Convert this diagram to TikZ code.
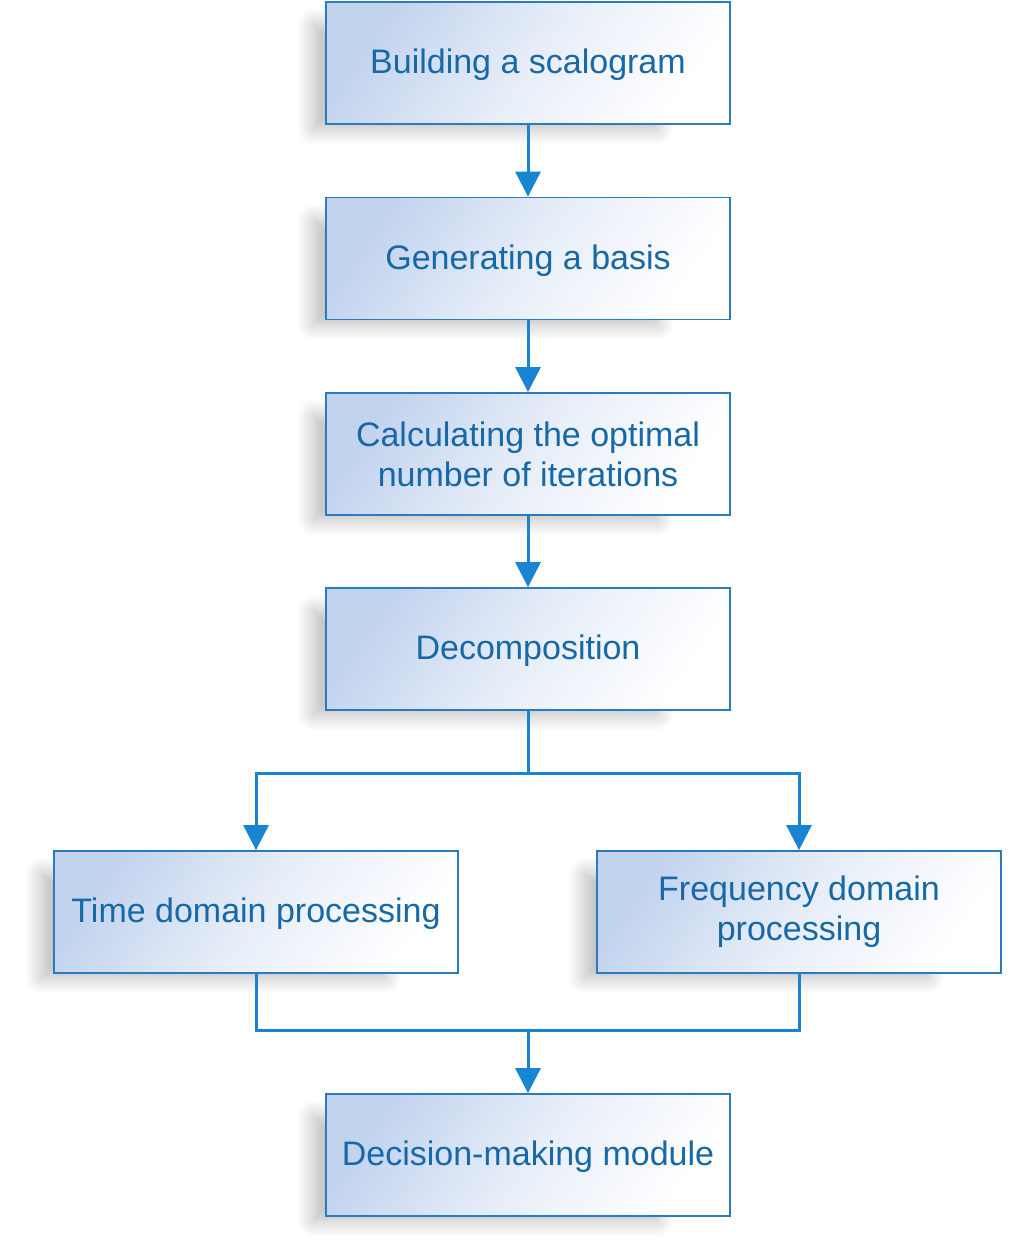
\documentclass[tikz,border=0pt]{standalone}
\usepackage{fontspec}
\setmainfont{Liberation Sans}
\usetikzlibrary{arrows.meta,shadows.blur}
\definecolor{boxline}{HTML}{2A7BBF}
\definecolor{boxtext}{HTML}{1768A6}
\definecolor{arrowc}{HTML}{1884D2}
\definecolor{boxfill}{HTML}{C2D3EE}
\newcommand{\lowtext}[1]{\raisebox{-2pt}[\height][\depth]{#1}}
\tikzset{
  procbox/.style={draw=boxline, line width=1.8pt, minimum width=404pt, minimum height=122pt,
    inner sep=0pt, align=center, text=boxtext, font=\fontsize{34}{40}\selectfont,
    top color=boxfill, bottom color=white, middle color=boxfill!40!white, shading angle=55,
    blur shadow={shadow xshift=-50pt, shadow yshift=-16pt, shadow blur radius=20pt, shadow blur steps=12, shadow opacity=28, shadow scale=0.85}},
  flow/.style={draw=arrowc, line width=3pt, -{Triangle[length=25pt,width=25pt]}},
  link/.style={draw=arrowc, line width=3pt}
}
\begin{document}
\begin{tikzpicture}[x=1pt,y=-1pt]
\useasboundingbox (0,0) rectangle (1024,1240);
\node[procbox] (b1) at (528,63) {\lowtext{Building a scalogram}};
\node[procbox] (b2) at (528,258.5) {\lowtext{Generating a basis}};
\node[procbox] (b3) at (528,454) {Calculating the optimal\\number of iterations};
\node[procbox] (b4) at (528,649) {\lowtext{Decomposition}};
\node[procbox] (t) at (256,912) {\lowtext{Time domain processing}};
\node[procbox] (f) at (799,912) {Frequency domain\\processing};
\node[procbox] (d) at (528,1155) {\lowtext{Decision-making module}};
\coordinate (split) at (528,773);
\coordinate (merge) at (528,1030);
\draw[flow] (b1) -- (b2);
\draw[flow] (b2) -- (b3);
\draw[flow] (b3) -- (b4);
\draw[link] (b4) -- (split);
\draw[flow] (split) -| (t);
\draw[flow] (split) -| (f);
\draw[link] (t) |- (merge);
\draw[link] (f) |- (merge);
\draw[flow] (merge) -- (d);
\end{tikzpicture}
\end{document}
